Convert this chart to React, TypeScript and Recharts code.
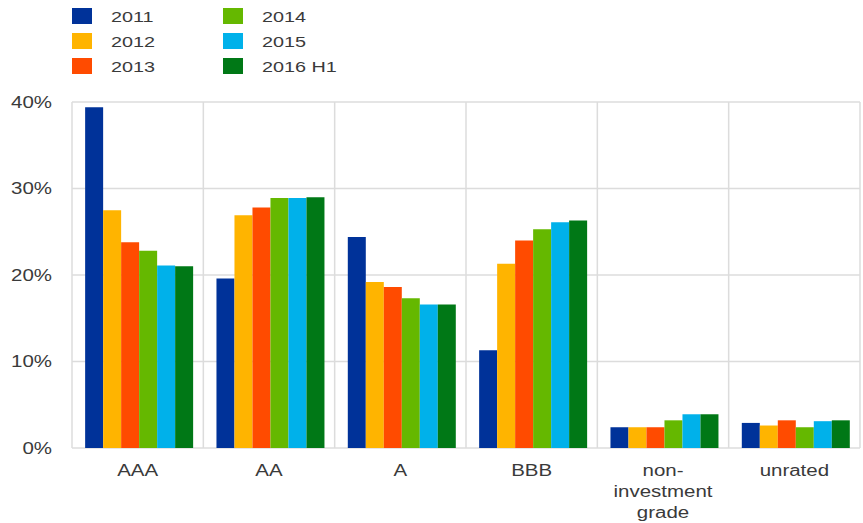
import React from "react";
import { Bar, BarChart, CartesianGrid, XAxis, YAxis } from "recharts";

const categories = ["AAA", "AA", "A", "BBB", "non-investment grade", "unrated"];
const seriesNames = ["2011", "2012", "2013", "2014", "2015", "2016 H1"];
const colors = ["#003299", "#ffb400", "#ff4b00", "#65b800", "#00b1ea", "#007816"];

const v2011 = [39.4, 19.6, 24.4, 11.3, 2.4, 2.9];
const v2012 = [27.5, 26.9, 19.2, 21.3, 2.4, 2.6];
const v2013 = [23.8, 27.8, 18.6, 24.0, 2.4, 3.2];
const v2014 = [22.8, 28.9, 17.3, 25.3, 3.2, 2.4];
const v2015 = [21.1, 28.9, 16.6, 26.1, 3.9, 3.1];
const v2016 = [21.0, 29.0, 16.6, 26.3, 3.9, 3.2];

const yTicks = [0, 10, 20, 30, 40];

const seriesValues = [v2011, v2012, v2013, v2014, v2015, v2016];

const data = categories.map((name, i) => {
  const row: Record<string, string | number> = { name };
  seriesNames.forEach((s, j) => {
    row[s] = seriesValues[j][i];
  });
  return row;
});

const font = "Arial, 'Liberation Sans', sans-serif";
const textColor = "#3a3a3a";
// the source picture is stretched sideways, so the text is too
const stretch = 1.28;

function CategoryTick({ x, y, payload }: any) {
  const lines = String(payload.value).replace("-", "-\n").split(/\n| /);
  return (
    <text
      transform={`translate(${x},${y}) scale(${stretch},1)`}
      textAnchor="middle"
      fill={textColor}
      fontSize={16}
      fontFamily={font}
    >
      {lines.map((line, i) => (
        <tspan key={i} x={0} dy={i === 0 ? 26 : 21}>
          {line}
        </tspan>
      ))}
    </text>
  );
}

function PercentTick({ x, y, payload }: any) {
  return (
    <text
      transform={`translate(${x},${y}) scale(${stretch},1)`}
      textAnchor="end"
      dy="0.36em"
      fill={textColor}
      fontSize={16}
      fontFamily={font}
    >
      {`${payload.value}%`}
    </text>
  );
}

function Legend() {
  const rows = 3;
  return (
    <div style={{ position: "absolute", left: 72, top: 8, fontFamily: font, fontSize: 15, color: textColor }}>
      {seriesNames.map((s, i) => (
        <div
          key={s}
          style={{
            position: "absolute",
            left: Math.floor(i / rows) * 151,
            top: (i % rows) * 25,
            height: 16,
            display: "flex",
            alignItems: "center",
            whiteSpace: "nowrap",
          }}
        >
          <span style={{ display: "inline-block", width: 20, height: 16, background: colors[i], marginRight: 19 }} />
          <span style={{ display: "inline-block", transform: `scaleX(${stretch + 0.04})`, transformOrigin: "left center" }}>
            {s}
          </span>
        </div>
      ))}
    </div>
  );
}

export default function App() {
  return (
    <div style={{ position: "absolute", left: 0, top: 0, width: 863, height: 523, background: "#fff" }}>
      <BarChart
        width={863}
        height={523}
        data={data}
        margin={{ top: 102, right: 3, bottom: 5, left: 0 }}
        barCategoryGap="10%"
        barGap={0}
      >
        <CartesianGrid
          stroke="#dcdcdc"
          strokeWidth={1.5}
          verticalCoordinatesGenerator={({ offset }: any) =>
            Array.from({ length: categories.length + 1 }, (_, i) => offset.left + (i * offset.width) / categories.length)
          }
        />
        <XAxis
          dataKey="name"
          height={70}
          axisLine={false}
          tickLine={false}
          tickSize={0}
          interval={0}
          tick={<CategoryTick />}
        />
        <YAxis
          width={72}
          domain={[0, 40]}
          ticks={yTicks}
          axisLine={false}
          tickLine={false}
          tickSize={0}
          tickMargin={20}
          tick={<PercentTick />}
        />
        {seriesNames.map((s, i) => (
          <Bar key={s} dataKey={s} fill={colors[i]} isAnimationActive={false} />
        ))}
      </BarChart>
      <Legend />
    </div>
  );
}
